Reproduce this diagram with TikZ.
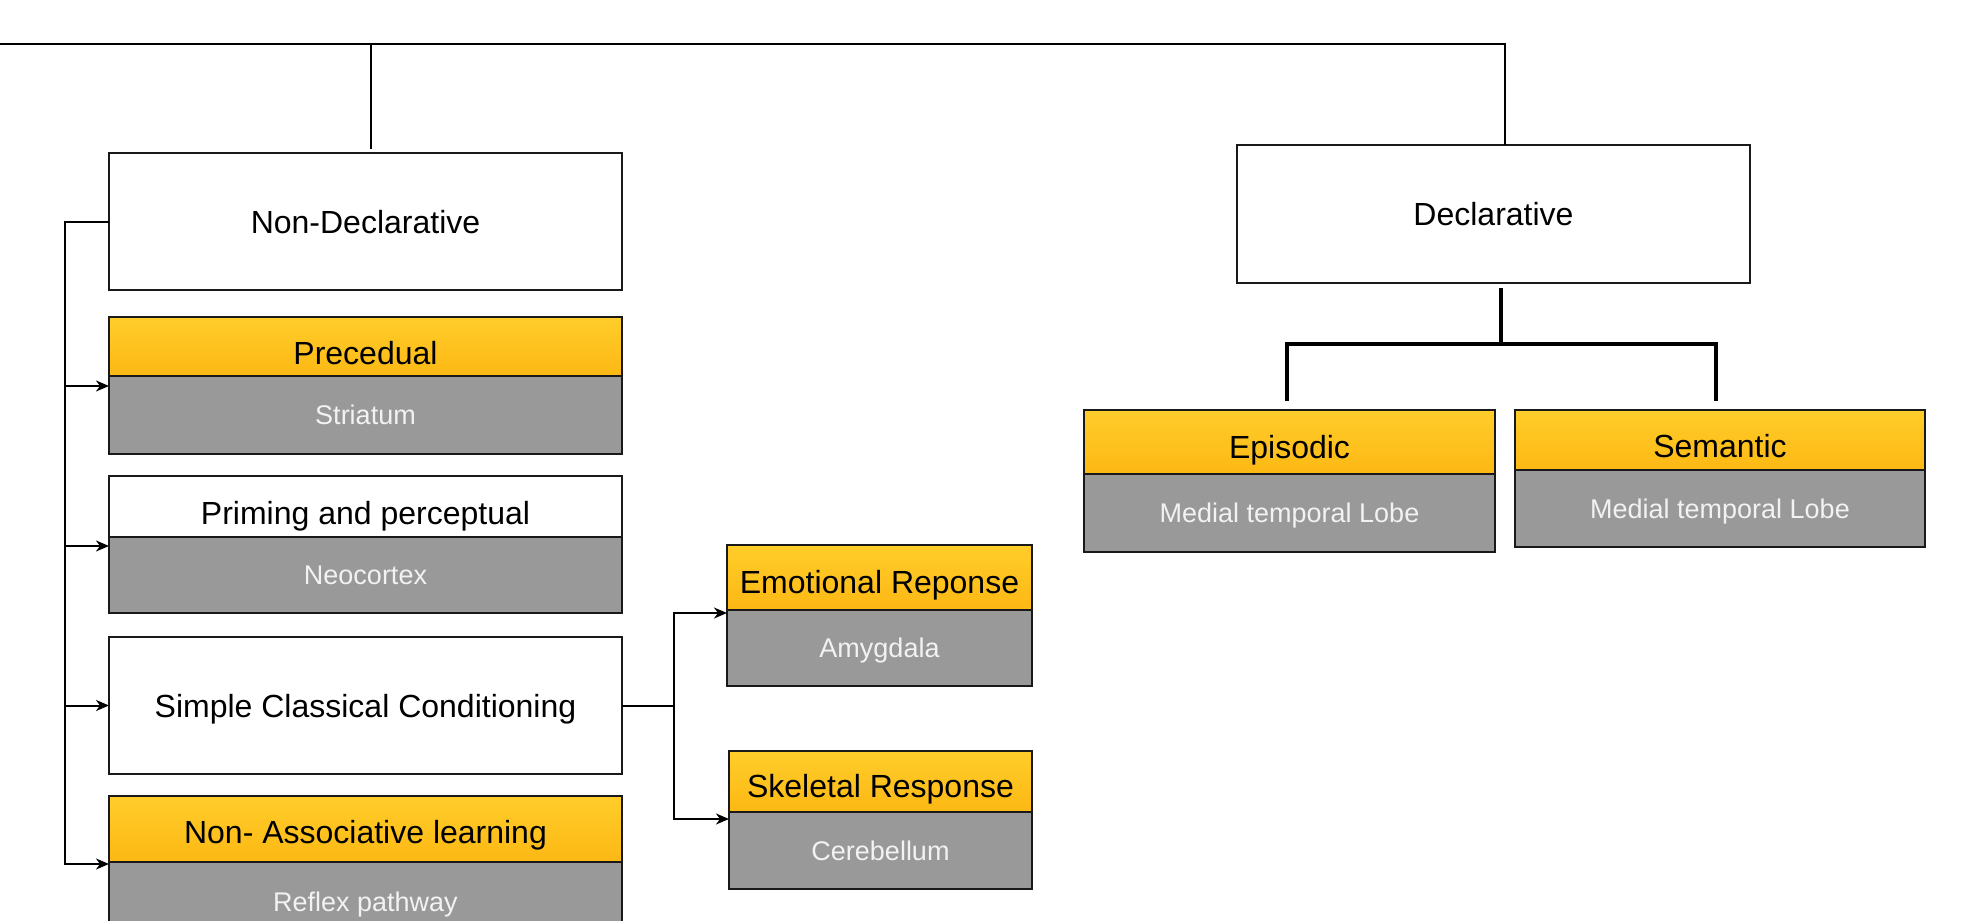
\documentclass[tikz,border=0pt]{standalone}
\usepackage{fontspec}
\setmainfont{Liberation Sans}
\usetikzlibrary{arrows.meta}
\definecolor{yelA}{RGB}{255,205,42}
\definecolor{yelB}{RGB}{253,184,20}
\definecolor{grayF}{RGB}{153,153,153}
\definecolor{grayT}{RGB}{242,242,242}
\tikzset{
  box/.style={draw=black!90, line width=2.5pt, anchor=north west, inner sep=0pt, outer sep=0pt,
     font=\fontsize{32}{38}\selectfont, text=black, text height=23pt, text depth=0pt},
  plainbox/.style={box, fill=white},
  hdrbox/.style={box, top color=yelA, bottom color=yelB},
  grybox/.style={box, fill=grayF, text=grayT, font=\fontsize{27}{32}\selectfont, text height=19.4pt},
  conn/.style={draw=black, line width=2pt},
  arr/.style={conn, -{Stealth[length=13pt,width=11pt,inset=4pt]}},
  thk/.style={draw=black, line width=4.5pt, line join=miter},
}
\begin{document}
\begin{tikzpicture}[x=1pt,y=-1pt]
\useasboundingbox (0,0) rectangle (1966,921);
\fill[white] (0,0) rectangle (1966,921);

% left column
\node[plainbox, minimum width=513pt, minimum height=137pt] (nd) at (109,153) {Non-Declarative};
\node[hdrbox, minimum width=513pt, minimum height=59pt, text height=35pt] (prech) at (109,317) {Precedual};
\node[grybox, minimum width=513pt, minimum height=78pt] (precg) at (109,376) {Striatum};
\node[plainbox, minimum width=513pt, minimum height=61pt, text height=35pt] (primh) at (109,476) {Priming and perceptual};
\node[grybox, minimum width=513pt, minimum height=76pt] (primg) at (109,537) {Neocortex};
\node[plainbox, minimum width=513pt, minimum height=137pt] (scc) at (109,637) {Simple Classical Conditioning};
\node[hdrbox, minimum width=513pt, minimum height=66pt, text height=28pt] (nah) at (109,796) {Non- Associative learning};
\node[grybox, minimum width=513pt, minimum height=80pt] (nag) at (109,862) {Reflex pathway};

% middle column
\node[hdrbox, minimum width=305pt, minimum height=65pt, text height=31pt] (emoh) at (727,545) {Emotional Reponse};
\node[grybox, minimum width=305pt, minimum height=76pt] (emog) at (727,610) {Amygdala};
\node[hdrbox, minimum width=303pt, minimum height=61pt, text height=31pt] (skeh) at (729,751) {Skeletal Response};
\node[grybox, minimum width=303pt, minimum height=77pt] (skeg) at (729,812) {Cerebellum};

% right side
\node[plainbox, minimum width=513pt, minimum height=138pt] (decl) at (1237,145) {Declarative};
\node[hdrbox, minimum width=411pt, minimum height=64pt, text height=32pt] (epih) at (1084,410) {Episodic};
\node[grybox, minimum width=411pt, minimum height=78pt] (epig) at (1084,474) {Medial temporal Lobe};
\node[hdrbox, minimum width=410pt, minimum height=60pt, text height=34pt] (semh) at (1515,410) {Semantic};
\node[grybox, minimum width=410pt, minimum height=77pt] (semg) at (1515,470) {Medial temporal Lobe};

% top connector
\coordinate (topL) at (0,44);
\draw[conn] ([xshift=5.5pt,yshift=4pt]nd.north) |- (topL);
\draw[conn] (topL) -| ([xshift=11pt]decl.north);

% left bus
\coordinate (bus) at ([xshift=-44pt]nd.west);
\coordinate (t1) at ([yshift=-10pt]precg.north west);
\coordinate (t2) at ([yshift=-9pt]primg.north west);
\coordinate (t4) at ([yshift=-2pt]nag.north west);
\draw[arr] (nd.west) -- (bus) |- (t4);
\draw[arr] (bus |- t1) -- (t1);
\draw[arr] (bus |- t2) -- (t2);
\draw[arr] (bus |- scc.west) -- (scc.west);

% conditioning fork
\coordinate (fork) at ([xshift=52pt]scc.east);
\coordinate (e1) at ([yshift=-3pt]emog.north west);
\coordinate (s1) at ([yshift=-7pt]skeg.north west);
\draw[arr] (scc.east) -- (fork) |- (e1);
\draw[arr] (fork) |- (s1);

% declarative split
\coordinate (dj) at ([xshift=7.5pt,yshift=-61pt]decl.south);
\draw[thk] ([xshift=7.5pt,yshift=-5pt]decl.south) -- (dj);
\draw[thk] ([xshift=-2.5pt,yshift=9pt]epih.north) |- (dj) -| ([xshift=-4pt,yshift=9pt]semh.north);
\end{tikzpicture}
\end{document}
